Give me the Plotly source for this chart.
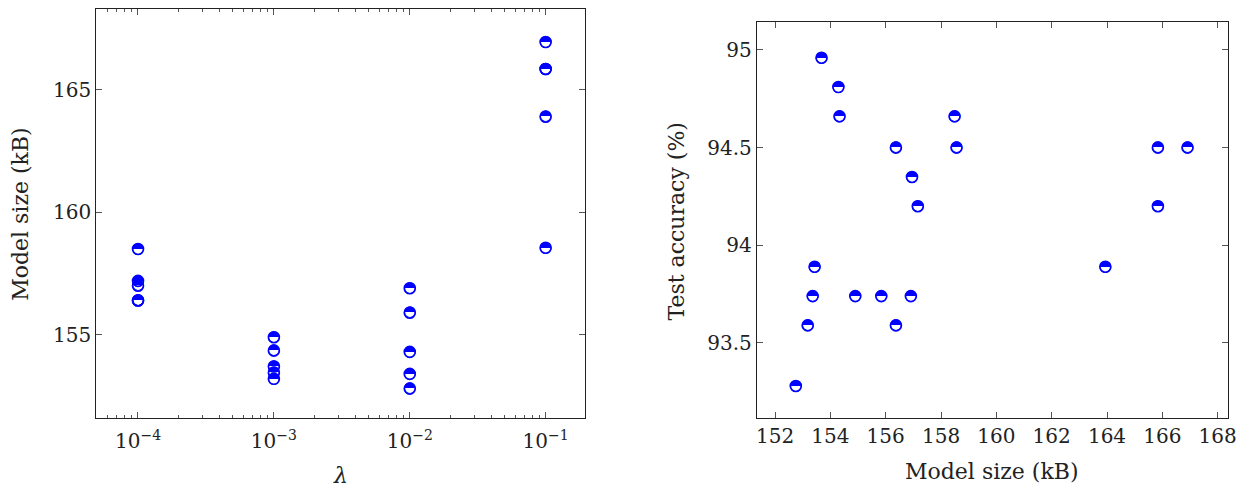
import plotly.graph_objects as go

# ---- data ----
lam = [1e-4, 1e-4, 1e-4, 1e-4, 1e-4,
       1e-3, 1e-3, 1e-3, 1e-3, 1e-3,
       1e-2, 1e-2, 1e-2, 1e-2, 1e-2,
       1e-1, 1e-1, 1e-1, 1e-1, 1e-1]
size_left = [158.5, 157.2, 157.0, 156.4, 156.4,
             154.9, 154.35, 153.7, 153.45, 153.2,
             156.9, 155.9, 154.3, 153.4, 152.8,
             166.95, 165.85, 165.85, 163.9, 158.55]

size_right = [152.75, 153.18, 153.36, 153.43, 153.68, 154.29, 154.33, 154.9, 155.84,
              156.37, 156.37, 156.95, 156.91, 157.16, 158.49, 158.56,
              163.94, 165.84, 165.84, 166.91]
acc_right = [93.28, 93.59, 93.74, 93.89, 94.96, 94.81, 94.66, 93.74, 93.74,
             93.59, 94.50, 94.35, 93.74, 94.20, 94.66, 94.50,
             93.89, 94.50, 94.20, 94.50]

lam_ticks = [1e-4, 1e-3, 1e-2, 1e-1]
lam_ticktext = ["10<sup>\u22124</sup>", "10<sup>\u22123</sup>", "10<sup>\u22122</sup>", "10<sup>\u22121</sup>"]
size_ticks = [155, 160, 165]
acc_ticks = [93.5, 94, 94.5, 95]
acc_ticktext = ["93.5", "94", "94.5", "95"]
xr_ticks = list(range(152, 169, 2))

FONT = "DejaVu Serif"
BLUE = "#0000ff"
GLYPH = "\u25d3"
TXT = "#222"

fig = go.Figure()


def add_points(x, y, xa, ya):
    fig.add_trace(go.Scatter(x=x, y=y, mode="markers+text", text=[GLYPH] * len(x),
                             marker=dict(symbol="circle-open", size=11, color=BLUE,
                                         line=dict(width=1.6, color=BLUE)),
                             textfont=dict(family="DejaVu Sans", size=15, color=BLUE),
                             textposition="middle center", xaxis=xa, yaxis=ya,
                             showlegend=False, hoverinfo="x+y"))


add_points(lam, size_left, "x", "y")
add_points(size_right, acc_right, "x2", "y2")

minor_vals = [k * 10.0 ** e for e in range(-5, 0) for k in range(2, 10)]


def axis_common():
    return dict(showgrid=False, zeroline=False, showline=True, linecolor="#222",
                linewidth=1, mirror="ticks", ticks="inside", ticklen=6,
                tickcolor="#555", tickwidth=1,
                tickfont=dict(family=FONT, size=20, color=TXT))


fig.update_layout(
    width=1249, height=489,
    margin=dict(l=0, r=0, t=0, b=0),
    paper_bgcolor="white", plot_bgcolor="white",
    xaxis=dict(type="log", domain=[0.0769, 0.4716], range=[-4.307, -0.708],
               tickvals=lam_ticks, ticktext=lam_ticktext, anchor="y",
               ticklabelstandoff=5,
               minor=dict(tickvals=minor_vals, ticks="inside", ticklen=3,
                          tickcolor="#555", showgrid=False),
               **axis_common()),
    yaxis=dict(domain=[0.1452, 0.9816], range=[151.6, 168.3], tickvals=size_ticks,
               anchor="x", **axis_common()),
    xaxis2=dict(domain=[0.610, 0.990], range=[151.34, 168.36], tickvals=xr_ticks,
                anchor="y2", **axis_common()),
    yaxis2=dict(domain=[0.1452, 0.955], range=[93.116, 95.143], tickvals=acc_ticks,
                ticktext=acc_ticktext, anchor="x2", **axis_common()),
    annotations=[
        dict(text="<i>\u03bb</i>", xref="paper", yref="paper", x=(96 + 589) / 2 / 1249,
             y=1 - 475 / 489, showarrow=False, font=dict(family=FONT, size=22, color=TXT),
             xanchor="center", yanchor="middle"),
        dict(text="Model size (kB)", xref="paper", yref="paper", x=19 / 1249,
             y=1 - 214 / 489, showarrow=False, textangle=-90,
             font=dict(family=FONT, size=22, color=TXT), xanchor="center", yanchor="middle"),
        dict(text="Model size (kB)", xref="paper", yref="paper", x=(762 + 1237) / 2 / 1249,
             y=1 - 471 / 489, showarrow=False, font=dict(family=FONT, size=22, color=TXT),
             xanchor="center", yanchor="middle"),
        dict(text="Test accuracy (%)", xref="paper", yref="paper", x=680 / 1249,
             y=1 - 222 / 489, showarrow=False, textangle=-90,
             font=dict(family=FONT, size=22, color=TXT), xanchor="center", yanchor="middle"),
    ],
)

fig.write_html("out.html")
